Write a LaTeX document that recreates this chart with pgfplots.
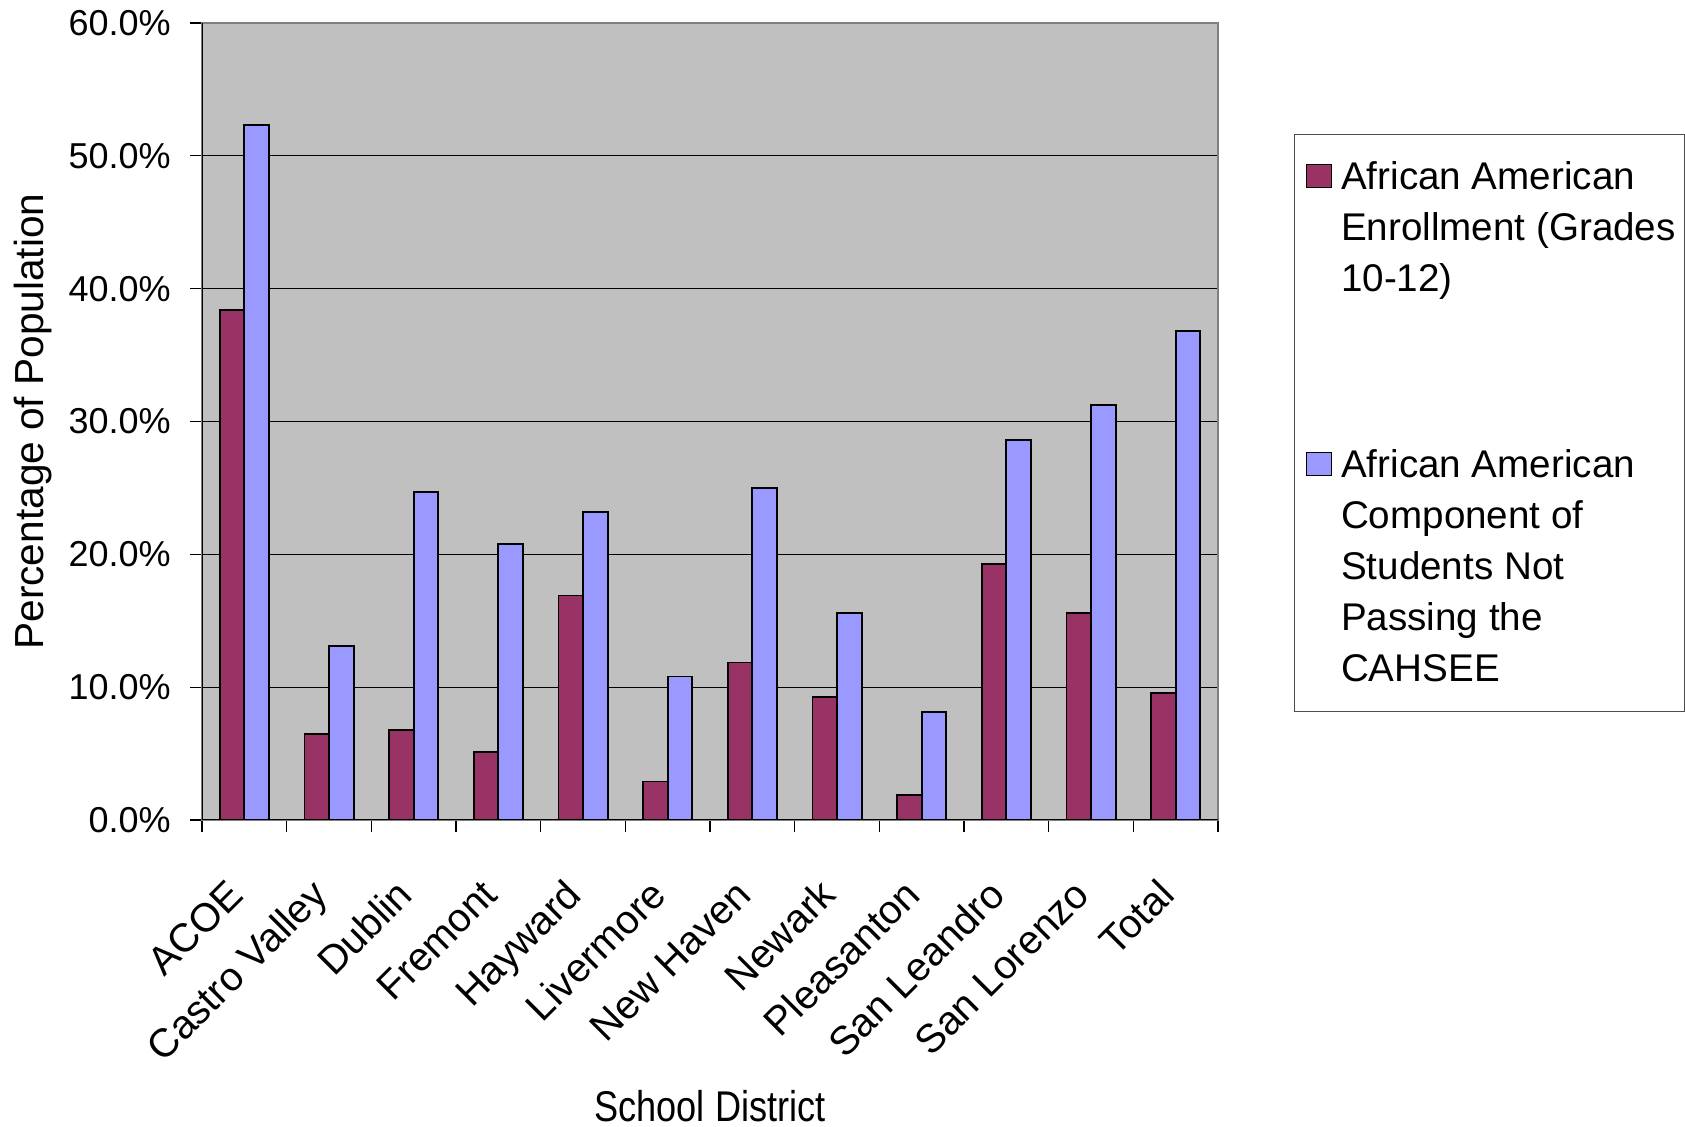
\documentclass[border=0pt]{standalone}
\usepackage{fontspec}
\setmainfont{Liberation Sans}
\newfontfamily\narrowfont[FakeStretch=0.84]{Liberation Sans}
\usepackage{pgfplots}
\pgfplotsset{compat=1.18}

\definecolor{enrol}{HTML}{993366}
\definecolor{notpass}{HTML}{9999FF}
\definecolor{plotbg}{HTML}{C0C0C0}

% legend texts are bottom-aligned, so each key is raised to the entry's first line
\pgfplotsset{
    key raised/.style={legend image code/.code={\path (0pt,0pt);
        \draw[##1, line width=0.6pt] (5.5pt,#1) rectangle (18pt,#1+11.5pt);}},
}

% percent of population
\pgfplotstableread{
x  enrol  notpass
0  38.4   52.3
1  6.45   13.1
2  6.8    24.7
3  5.1    20.8
4  16.9   23.2
5  2.9    10.8
6  11.85  25.0
7  9.25   15.6
8  1.9    8.1
9  19.3   28.6
10 15.6   31.25
11 9.55   36.8
}\cahsee

\begin{document}
\begin{tikzpicture}
\path[use as bounding box] (0,0) rectangle (842.5pt,563.5pt);
\begin{axis}[
    at={(101pt,153.5pt)}, anchor=south west,
    scale only axis, width=508pt, height=398.5pt,
    ybar=0pt, bar width=12.3pt,
    xmin=-0.5, xmax=11.5, ymin=0, ymax=60,
    axis background/.style={fill=plotbg},
    axis line style={draw=gray, line width=0.7pt},
    tick pos=left,
    xtick={-0.5,0.5,...,11.5}, xticklabels={},
    extra x ticks={0,1,...,11},
    extra x tick labels={ACOE,Castro Valley,Dublin,Fremont,Hayward,Livermore,New Haven,Newark,Pleasanton,San Leandro,San Lorenzo,Total},
    extra x tick style={major tick length=0pt},
    ytick={0,10,...,60},
    yticklabel={\pgfmathprintnumber[fixed,fixed zerofill,precision=1]{\tick}\%},
    /pgf/number format/assume math mode=true,
    tick align=outside, major tick length=6pt,
    tick style={black, line width=0.6pt},
    ymajorgrids, grid style={black, line width=0.6pt},
    tick label style={font=\fontsize{18}{21}\selectfont, inner sep=0pt},
    yticklabel style={anchor=east, xshift=-9.5pt},
    xticklabel style={font=\fontsize{20}{24}\selectfont,
        xshift=0.5pt, yshift=-38.5pt, rotate=45, anchor=base east},
    xlabel={School District},
    ylabel={Percentage of Population},
    every axis x label/.style={at={(axis description cs:0.5,-0.378)}, anchor=base,
        font=\narrowfont\fontsize{21.5}{25}\selectfont},
    every axis y label/.style={at={(axis description cs:-0.1565,0.5)}, rotate=90, anchor=base,
        font=\fontsize{20.3}{24}\selectfont},
    legend style={at={(1.0748,0.8607)}, anchor=north west, draw=black!70, line width=0.6pt,
        fill=white, inner xsep=0pt, inner ysep=13.5pt, row sep=77.5pt,
        font=\fontsize{19.3}{25.5}\selectfont, nodes={inner sep=0pt},
        cells={anchor=base west},
        /tikz/every odd column/.append style={column sep=4.5pt}},
]
\addplot[fill=enrol, draw=black, line width=0.9pt, key raised=52pt]
    table[x=x, y=enrol] {\cahsee};
\addplot[fill=notpass, draw=black, line width=0.9pt, key raised=103pt]
    table[x=x, y=notpass] {\cahsee};
\addlegendentry{{\parbox[b]{171.5pt}{\raggedright African American\\Enrollment (Grades\\10-12)}}}
\addlegendentry{{\parbox[b]{171.5pt}{\raggedright African American\\Component of\\Students Not\\Passing the\\CAHSEE}}}
\draw[black, line width=0.7pt] (rel axis cs:0,1) -- (rel axis cs:0,0) -- (rel axis cs:1,0);
\end{axis}
\end{tikzpicture}
\end{document}
